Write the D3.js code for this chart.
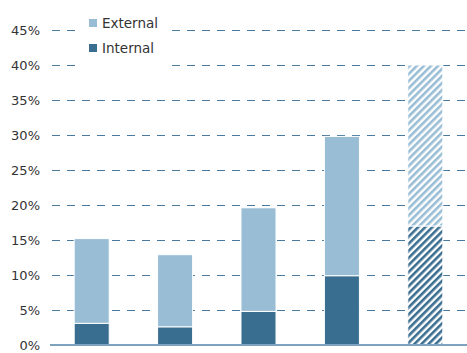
<!DOCTYPE html>
<html>
<head>
<meta charset="utf-8">
<script src="https://cdn.jsdelivr.net/npm/d3@7"></script>
<style>
  body { margin: 0; background: #fff; }
  svg text { font-family: "DejaVu Sans", sans-serif; fill: #333; }
</style>
</head>
<body>
<div id="chart"></div>
<script>
// chart data
var categories = ["A", "B", "C", "D", "E"];
var internal = [3.1, 2.6, 4.8, 9.9, 17.0];
var external = [12.1, 10.3, 14.8, 19.9, 23.0];
var projected = [false, false, false, false, true];
var yTicks = [0, 5, 10, 15, 20, 25, 30, 35, 40, 45, 50];

var width = 467, height = 353;
var colInternal = "#3a6e90", colExternal = "#98bdd5";

var svg = d3.select("#chart").append("svg")
  .attr("width", width)
  .attr("height", height);

// hatch patterns for the projected bar
var defs = svg.append("defs");
function hatch(id, color){
  var p = defs.append("pattern")
    .attr("id", id)
    .attr("patternUnits", "userSpaceOnUse")
    .attr("width", 5)
    .attr("height", 5)
    .attr("patternTransform", "rotate(45)");
  p.append("rect").attr("width", 5).attr("height", 5).attr("fill", "#fff");
  p.append("rect").attr("width", 2.6).attr("height", 5).attr("fill", color);
}
hatch("hatchInt", colInternal);
hatch("hatchExt", colExternal);

var x = d3.scaleBand()
  .domain(categories)
  .range([50, 467])
  .paddingInner(0.58)
  .paddingOuter(0.29);

var y = d3.scaleLinear()
  .domain([0, 50])
  .range([345, -5]);

// gridlines + labels
var grid = svg.append("g");
grid.selectAll("line")
  .data(yTicks.filter(function(d){ return d > 0; }))
  .enter().append("line")
  .attr("x1", 52).attr("x2", width)
  .attr("y1", function(d){ return Math.round(y(d)) + 0.5; })
  .attr("y2", function(d){ return Math.round(y(d)) + 0.5; })
  .attr("stroke", "#4a7a9d")
  .attr("stroke-width", 1)
  .attr("stroke-dasharray", "8,7");

grid.selectAll("text")
  .data(yTicks)
  .enter().append("text")
  .attr("x", 40)
  .attr("y", function(d){ return y(d); })
  .attr("dy", "0.35em")
  .attr("text-anchor", "end")
  .style("font-size", "13px")
  .text(function(d){ return d + "%"; });

// bars
var bars = svg.append("g").selectAll("g")
  .data(categories)
  .enter().append("g");

bars.append("rect")
  .attr("x", function(d){ return x(d); })
  .attr("width", x.bandwidth())
  .attr("y", function(d,i){ return y(internal[i]); })
  .attr("height", function(d,i){ return y(0) - y(internal[i]); })
  .attr("fill", function(d,i){ return projected[i] ? "url(#hatchInt)" : colInternal; })
  .attr("stroke", "#fff")
  .attr("stroke-width", 1);

bars.append("rect")
  .attr("x", function(d){ return x(d); })
  .attr("width", x.bandwidth())
  .attr("y", function(d,i){ return y(internal[i] + external[i]); })
  .attr("height", function(d,i){ return y(internal[i]) - y(internal[i] + external[i]); })
  .attr("fill", function(d,i){ return projected[i] ? "url(#hatchExt)" : colExternal; })
  .attr("stroke", "#fff")
  .attr("stroke-width", 1);

// baseline
svg.append("line")
  .attr("x1", 50).attr("x2", width)
  .attr("y1", y(0)).attr("y2", y(0))
  .attr("stroke", "#7ea3bf")
  .attr("stroke-width", 2);

// legend
var legend = svg.append("g");
legend.append("rect")
  .attr("x", 75).attr("y", 8)
  .attr("width", 97).attr("height", 62)
  .attr("fill", "#fff");

var legendItems = [{label: "External", color: colExternal}, {label: "Internal", color: colInternal}];
legendItems.forEach(function(it, i){
  legend.append("rect")
    .attr("x", 89).attr("y", 19 + i * 25)
    .attr("width", 8).attr("height", 8)
    .attr("fill", it.color);
  legend.append("text")
    .attr("x", 102).attr("y", 23 + i * 25)
    .attr("dy", "0.35em")
    .style("font-size", "13.5px")
    .text(it.label);
});
</script>
</body>
</html>
